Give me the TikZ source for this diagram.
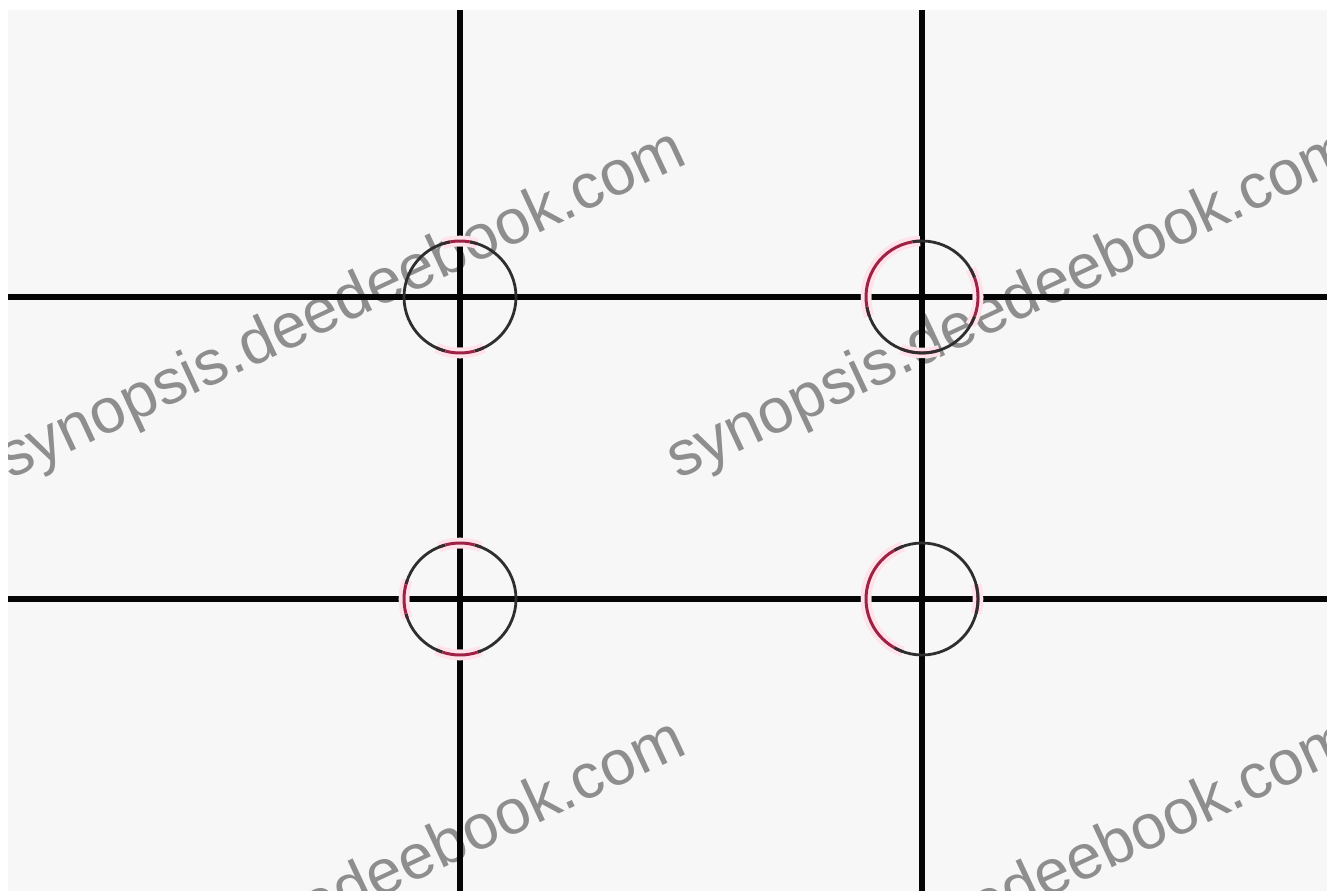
\documentclass[tikz,border=0pt]{standalone}
\usepackage{fontspec}
\setmainfont{Liberation Sans}
\usepackage{tikz}
\usetikzlibrary{positioning}
\usepackage{xcolor}
\definecolor{paper}{HTML}{F7F7F7}
\definecolor{gridline}{HTML}{050505}
\definecolor{ringgray}{HTML}{2E2E2E}
\definecolor{ringred}{HTML}{9E2244}
\definecolor{ringpink}{HTML}{FFE2EA}
\definecolor{markgray}{HTML}{8E8E8E}

% red part of a ring, angles as seen on the page
\newcommand{\ringarc}[3]{%
  \draw[pinkhalo] ([shift={(-#2:56)}]#1) arc (-#2:-#3:56);
  \draw[redarc] ([shift={(-#2:56)}]#1) arc (-#2:-#3:56);}

\begin{document}
\begin{tikzpicture}[x=0.02cm, y=-0.02cm,
			thirdline/.style={draw=gridline, line width=3pt},
			ring/.style={draw=ringgray, line width=1.6pt},
			redarc/.style={draw=ringred, line width=1.7pt},
			pinkhalo/.style={draw=ringpink, line width=6pt},
			wmark/.style={text=markgray, font=\fontsize{36}{36}\selectfont, rotate=25, anchor=base west, inner sep=0pt}
		]
		\useasboundingbox (0,0) rectangle (1327,891);
		\fill[white] (0,0) rectangle (1327,891);
		\fill[paper] (8,10) rectangle (1327,891);

		% watermark
		\begin{scope}
			\clip (8,10) rectangle (1327,891);
			\foreach \dx/\dy [count=\i] in {0/0, 668/0, 0/590, 668/590}
				\node[wmark] (wm\i) at (10+\dx,480+\dy) {synopsis.deedeebook.com};
		\end{scope}

		% thirds
		\coordinate (tl) at (460,297);
		\coordinate (tr) at (922,297);
		\coordinate (bl) at (460,599);
		\coordinate (br) at (922,599);

		\draw[thirdline] (8,297) -- (1327,297);
		\draw[thirdline] (8,599) -- (1327,599);
		\draw[thirdline] (460,10) -- (460,891);
		\draw[thirdline] (922,10) -- (922,891);

		% rings on the crossings
		\ringarc{tl}{72}{108}
		\ringarc{tl}{245}{295}
		\ringarc{tr}{92}{200}
		\ringarc{tr}{330}{390}
		\ringarc{tr}{248}{288}
		\ringarc{bl}{68}{112}
		\ringarc{bl}{160}{200}
		\ringarc{bl}{245}{292}
		\ringarc{br}{110}{250}
		\ringarc{br}{345}{375}
		\foreach \p in {tl,tr,bl,br}
			\draw[ring] (\p) circle (56);
		\ringarc{tl}{80}{100}
		\ringarc{tl}{255}{285}
		\ringarc{tr}{100}{190}
		\ringarc{tr}{340}{380}
		\ringarc{bl}{75}{105}
		\ringarc{bl}{165}{195}
		\ringarc{bl}{252}{288}
		\ringarc{br}{120}{240}
	\end{tikzpicture}
\end{document}
